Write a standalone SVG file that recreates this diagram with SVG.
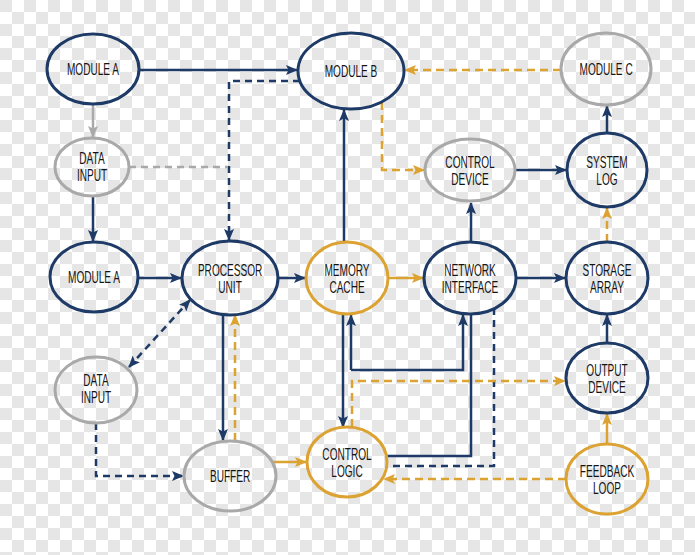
<svg xmlns="http://www.w3.org/2000/svg" width="695" height="555" viewBox="0 0 695 555">
  <defs>
    <pattern id="cb" width="24" height="24" patternUnits="userSpaceOnUse">
      <rect width="24" height="24" fill="#ffffff"/>
      <rect x="0" y="0" width="12" height="12" fill="#e6e6e6"/>
      <rect x="12" y="12" width="12" height="12" fill="#e6e6e6"/>
    </pattern>
    <marker id="aN" viewBox="0 0 12 10" refX="11" refY="5" markerWidth="12" markerHeight="10" markerUnits="userSpaceOnUse" orient="auto-start-reverse">
      <path d="M0,0 L12,5 L0,10 L2.5,5 z" fill="#1e3a66"/>
    </marker>
    <marker id="aO" viewBox="0 0 12 10" refX="11" refY="5" markerWidth="12" markerHeight="10" markerUnits="userSpaceOnUse" orient="auto-start-reverse">
      <path d="M0,0 L12,5 L0,10 L2.5,5 z" fill="#dca232"/>
    </marker>
    <marker id="aG" viewBox="0 0 12 10" refX="11" refY="5" markerWidth="12" markerHeight="10" markerUnits="userSpaceOnUse" orient="auto-start-reverse">
      <path d="M0,0 L12,5 L0,10 L2.5,5 z" fill="#a9a9a9"/>
    </marker>
  </defs>
  <style>
    .node { fill: none; stroke-width: 3; }
    .navy { stroke: #1e3a66; }
    .orange { stroke: #dca232; }
    .gray { stroke: #a9a9a9; }
    .lbl { font-family: "Liberation Sans", Arial, sans-serif; font-size: 16px; fill: #141414; text-anchor: middle; transform-box: fill-box; transform-origin: center; transform: scaleX(0.63); }
    .c { fill: none; stroke-width: 2.5; }
    .cn { stroke: #1e3a66; }
    .co { stroke: #dca232; }
    .cg { stroke: #a9a9a9; }
    .dn { stroke-dasharray: 7 5; }
    .do { stroke-dasharray: 8 5; }
    .mn { marker-end: url(#aN); }
    .mo { marker-end: url(#aO); }
    .mg { marker-end: url(#aG); }
  </style>
  <rect width="695" height="555" fill="url(#cb)"/>

  <g id="connectors">
    <path class="c cn mn" d="M139 70 H297"/>
    <path class="c cn dn mn" d="M300 81 H229 V240"/>
    <path class="c cg mg" d="M93 104 V137"/>
    <path class="c cg dn" d="M129 167 H228"/>
    <path class="c cn mn" d="M93 196 V241"/>
    <path class="c cn mn" d="M138 278 H181"/>
    <path class="c cn dn mn" d="M129 367 L190 300" marker-start="url(#aN)"/>
    <path class="c cn mn" d="M223 315 V440"/>
    <path class="c co do mo" d="M235 441 V315"/>
    <path class="c cn dn mn" d="M96 423 V476 H183"/>
    <path class="c co mo" d="M272 462 H306"/>
    <path class="c cn mn" d="M278 278 H305"/>
    <path class="c cn mn" d="M344 242 V110"/>
    <path class="c co mo" d="M388 278 H423"/>
    <path class="c cn mn" d="M343 314 V427"/>
    <path class="c cn mn" d="M351 370 H463 V315"/>
    <path class="c cn mn" d="M351 370 V315"/>
    <path class="c cn" d="M386 456 H471 V314"/>
    <path class="c cn dn" d="M494 308 V466 H387"/>
    <path class="c co do mo" d="M352 427 V381 H565"/>
    <path class="c co do mo" d="M566 479 H384"/>
    <path class="c co mo" d="M607 444 V414"/>
    <path class="c cn mn" d="M607 343 V315"/>
    <path class="c co do mo" d="M607 242 V208"/>
    <path class="c cn mn" d="M516 278 H565"/>
    <path class="c cn mn" d="M471 242 V203"/>
    <path class="c cn mn" d="M515 170 H566"/>
    <path class="c cn mn" d="M607 133 V106"/>
    <path class="c co do mo" d="M561 70 H405"/>
    <path class="c co do mo" d="M382 102 V170 H424"/>
  </g>

  <g id="module-a-top">
    <ellipse class="node navy" cx="93" cy="69" rx="46" ry="35"/>
    <text class="lbl" x="93" y="75">MODULE A</text>
  </g>
  <g id="data-input-top">
    <ellipse class="node gray" cx="92" cy="167" rx="37" ry="29"/>
    <text class="lbl" x="92" y="164">DATA<tspan x="92" y="181">INPUT</tspan></text>
  </g>
  <g id="module-b">
    <ellipse class="node navy" cx="351" cy="71" rx="53" ry="38"/>
    <text class="lbl" x="351" y="77">MODULE B</text>
  </g>
  <g id="module-c">
    <ellipse class="node gray" cx="606" cy="69" rx="45" ry="36"/>
    <text class="lbl" x="606" y="75">MODULE C</text>
  </g>
  <g id="control-device">
    <ellipse class="node gray" cx="470" cy="170" rx="45" ry="31"/>
    <text class="lbl" x="470" y="168">CONTROL<tspan x="470" y="185">DEVICE</tspan></text>
  </g>
  <g id="system-log">
    <ellipse class="node navy" cx="607" cy="170" rx="40" ry="37"/>
    <text class="lbl" x="607" y="168">SYSTEM<tspan x="607" y="185">LOG</tspan></text>
  </g>
  <g id="module-a-mid">
    <ellipse class="node navy" cx="94" cy="277" rx="44" ry="35"/>
    <text class="lbl" x="94" y="283">MODULE A</text>
  </g>
  <g id="processor-unit">
    <ellipse class="node navy" cx="230" cy="278" rx="48" ry="37"/>
    <text class="lbl" x="230" y="276">PROCESSOR<tspan x="230" y="293">UNIT</tspan></text>
  </g>
  <g id="memory-cache">
    <ellipse class="node orange" cx="347" cy="278" rx="41" ry="36"/>
    <text class="lbl" x="347" y="276">MEMORY<tspan x="347" y="293">CACHE</tspan></text>
  </g>
  <g id="network-interface">
    <ellipse class="node navy" cx="470" cy="278" rx="46" ry="36"/>
    <text class="lbl" x="470" y="276">NETWORK<tspan x="470" y="293">INTERFACE</tspan></text>
  </g>
  <g id="storage-array">
    <ellipse class="node navy" cx="607" cy="278" rx="41" ry="36"/>
    <text class="lbl" x="607" y="276">STORAGE<tspan x="607" y="293">ARRAY</tspan></text>
  </g>
  <g id="data-input-bottom">
    <ellipse class="node gray" cx="96" cy="390" rx="41" ry="33"/>
    <text class="lbl" x="96" y="386">DATA<tspan x="96" y="403">INPUT</tspan></text>
  </g>
  <g id="output-device">
    <ellipse class="node navy" cx="607" cy="378" rx="41" ry="35"/>
    <text class="lbl" x="607" y="376">OUTPUT<tspan x="607" y="393">DEVICE</tspan></text>
  </g>
  <g id="buffer">
    <ellipse class="node gray" cx="230" cy="476" rx="46" ry="35"/>
    <text class="lbl" x="230" y="482">BUFFER</text>
  </g>
  <g id="control-logic">
    <ellipse class="node orange" cx="347" cy="462" rx="40" ry="35"/>
    <text class="lbl" x="347" y="460">CONTROL<tspan x="347" y="477">LOGIC</tspan></text>
  </g>
  <g id="feedback-loop">
    <ellipse class="node orange" cx="607" cy="479" rx="41" ry="35"/>
    <text class="lbl" x="607" y="477">FEEDBACK<tspan x="607" y="494">LOOP</tspan></text>
  </g>
</svg>
